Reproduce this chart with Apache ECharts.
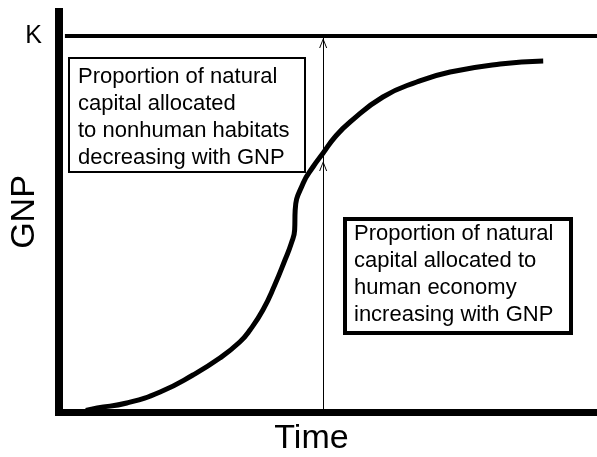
<!DOCTYPE html>
<html>
<head>
<meta charset="utf-8">
<script src="https://cdn.jsdelivr.net/npm/echarts@6/dist/echarts.min.js"></script>
<style>
html,body{margin:0;padding:0;background:#fff;}
#chart{width:597px;height:457px;}
</style>
</head>
<body>
<div id="chart"></div>
<script>
// ---- data ----
const timeVals = [5.0, 7.1, 12.6, 18.8, 24.9, 29.9, 33.6, 35.5, 37.9, 40.1, 42.0, 43.2, 43.8, 43.9, 45.4, 47.2, 49.1, 51.3, 54.1, 60.2, 66.5, 72.7, 82.0, 90.0];
const gnpVals  = [0.4, 1.0, 2.25, 5.0, 9.25, 13.5, 17.5, 20.5, 25.5, 31.75, 38.0, 42.25, 45.5, 50.5, 57.25, 61.25, 64.75, 68.75, 72.5, 78.75, 82.5, 85.0, 87.0, 87.75];
const kLevel = 94;
const kLineFrom = 1.1;
const kLineTo = 100;
const arrowTime = 49.1;
const arrowLower = [0, 62.75];
const arrowUpper = [62.75, 93.5];
const yTickLabels = ['K'];
const xAxisName = 'Time';
const yAxisName = 'GNP';
const leftBoxLines = ['Proportion of natural', 'capital allocated', 'to nonhuman habitats', 'decreasing with GNP'];
const rightBoxLines = ['Proportion of natural', 'capital allocated to', 'human economy', 'increasing with GNP'];

const FONT = '"Liberation Sans", Arial, Helvetica, sans-serif';
const chevron = 'path://M0,10 L4,0 L8,10 L7,10 L4,2.2 L1,10 Z';

const curve = timeVals.map((t, i) => [t, gnpVals[i]]);

const chart = echarts.init(document.getElementById('chart'), null, {renderer: 'canvas'});
chart.setOption({
  animation: false,
  backgroundColor: '#ffffff',
  grid: {left: 59, right: 0, top: 12, bottom: 45, containLabel: false, outerBoundsMode: 'none'},
  xAxis: {
    type: 'value', min: 0, max: 100,
    name: xAxisName, nameLocation: 'middle', nameGap: 10, nameMoveOverlap: false,
    nameTextStyle: {fontFamily: FONT, fontSize: 34, color: '#000', padding: [0, 33, 0, 0], verticalAlign: 'top'},
    axisLine: {show: true, lineStyle: {color: '#000', width: 7, cap: 'square'}},
    axisTick: {show: false}, axisLabel: {show: false}, splitLine: {show: false}
  },
  yAxis: {
    type: 'value', min: 0, max: 100,
    name: yAxisName, nameLocation: 'middle', nameGap: 17, nameRotate: 90, nameMoveOverlap: false,
    nameTextStyle: {fontFamily: FONT, fontSize: 34, color: '#000'},
    axisLine: {show: true, lineStyle: {color: '#000', width: 8, cap: 'square'}},
    axisTick: {show: false},
    axisLabel: {
      show: true, customValues: [kLevel], margin: 17,
      fontFamily: FONT, fontSize: 25, color: '#000',
      formatter: v => (Math.abs(v - kLevel) < 1e-6 ? yTickLabels[0] : '')
    },
    splitLine: {show: false}
  },
  series: [{
    type: 'line',
    data: curve,
    smooth: 0.5,
    symbol: 'none',
    lineStyle: {color: '#000', width: 5},
    silent: true,
    markLine: {
      silent: true,
      animation: false,
      label: {show: false},
      emphasis: {disabled: true},
      symbol: ['none', 'none'],
      data: [
        [{coord: [kLineFrom, kLevel], lineStyle: {color: '#000', width: 4, type: 'solid'}}, {coord: [kLineTo, kLevel]}],
        [{coord: [arrowTime, arrowLower[0]], symbol: 'none', lineStyle: {color: '#000', width: 1, type: 'solid'}},
         {coord: [arrowTime, arrowLower[1]], symbol: chevron, symbolSize: [8, 10], symbolOffset: [0, '50%']}],
        [{coord: [arrowTime, arrowUpper[0]], symbol: 'none', lineStyle: {color: '#000', width: 1, type: 'solid'}},
         {coord: [arrowTime, arrowUpper[1]], symbol: chevron, symbolSize: [8, 10], symbolOffset: [0, '50%']}]
      ]
    }
  }],
  graphic: [
    {type: 'rect', z: 100, shape: {x: 69, y: 58, width: 236, height: 114},
     style: {fill: '#fff', stroke: '#000', lineWidth: 2}},
    {type: 'text', z: 101, x: 78, y: 63,
     style: {text: leftBoxLines.join('\n'), font: '22px ' + FONT, lineHeight: 27, fill: '#000', verticalAlign: 'top', align: 'left'}},
    {type: 'rect', z: 100, shape: {x: 345, y: 219, width: 226, height: 114},
     style: {fill: '#fff', stroke: '#000', lineWidth: 4}},
    {type: 'text', z: 101, x: 354, y: 220,
     style: {text: rightBoxLines.join('\n'), font: '22px ' + FONT, lineHeight: 27, fill: '#000', verticalAlign: 'top', align: 'left'}}
  ]
});
</script>
</body>
</html>
